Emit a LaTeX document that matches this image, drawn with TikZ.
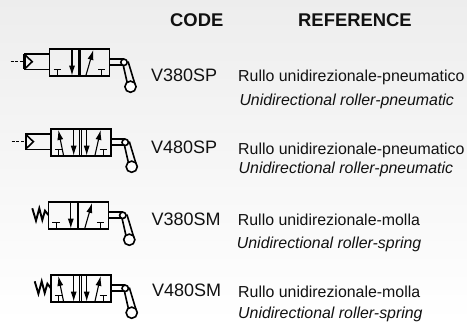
\documentclass[tikz,border=0pt]{standalone}
\usepackage{fontspec}
\setmainfont{Liberation Sans}
\usetikzlibrary{arrows.meta}
\definecolor{ink}{HTML}{111111}
\tikzset{
  head/.style={anchor=base west,inner sep=0pt,text=ink,font=\fontsize{18.4}{20}\selectfont\bfseries},
  codet/.style={anchor=base west,inner sep=0pt,text=ink,font=\fontsize{18}{20}\selectfont},
  desc/.style={anchor=base west,inner sep=0pt,text=ink,font=\fontsize{15.9}{18}\selectfont},
  tran/.style={anchor=base west,inner sep=0pt,text=ink,font=\fontsize{15.9}{18}\selectfont\itshape},
  sym/.style={draw=black,line width=1.6pt,line join=miter},
  flow/.style={draw=black,line width=1.1pt,-{Latex[length=10pt,width=6pt]}},
  thin/.style={draw=black,line width=1.1pt},
  tee/.pic={\draw[thin] (-3.7,0)--(3.7,0) (0,0)--(0,6);},
  body/.pic={
    \draw[sym] (0,0) rectangle (60,27);
    \draw[thin] (28.8,0)--(28.8,27) (30.5,0)--(30.5,27);
    \draw[sym] (60,10)--(74.5,10) (60,16.4)--(74.5,16.4);
    \draw[sym] (73.7,16.4)--(77.6,33.5) (78.6,12.8)--(85.7,36.3);
    \draw[sym,fill=white] (74.5,13.6) circle (3.2);
    \draw[sym,fill=white] (81,38) circle (5.6);
  },
  threeway/.pic={
    \path (0,0) pic {body} (7.8,21) pic {tee} (52.2,21) pic {tee};
    \draw[flow] (22.5,0)--(22.5,27);
    \draw[flow] (36.5,26.5)--(43.8,1.2);
  },
  fourway/.pic={
    \path (0,0) pic {body} (7.8,21) pic {tee} (52.6,21) pic {tee};
    \draw[flow] (23,0)--(23,27);
    \draw[flow] (36,0)--(36,27);
    \draw[flow] (12.8,26.5)--(7.6,1.2);
    \draw[flow] (44.3,26.5)--(50,1.2);
  },
  pilot/.pic={
    \draw[sym] (0,5.3)--(-25,5.3)--(-25,20.6)--(0,20.6);
    \draw[draw=black,line width=2.2pt] (-25,5.3)--(-25,20.6);
    \draw[sym] (-24,6.6)--(-17.3,13)--(-24,19.4);
    \draw[thin,dash pattern=on 3pt off 1.6pt] (-39,13)--(-25.5,13);
  },
  coil/.pic={
    \draw[sym,line width=1.9pt] (-16,6.6)--(-12.3,19)--(-9,6.6)--(-6,18.3)--(-3.3,9)--(0,13.3);
  },
}
\begin{document}
\begin{tikzpicture}[x=1pt,y=-1pt]
\useasboundingbox (0,0) rectangle (467,322);
\shade[top color=black!7,bottom color=white] (0,0) rectangle (467,322);
\node[head] (codehead) at (170,26.7) {CODE};
\node[head] (refhead) at (298,26.7) {REFERENCE};
\path (49.5,48.7) pic {threeway} pic {pilot};
\path (50.7,128.7) pic {fourway} pic {pilot};
\path (48.3,201.7) pic {threeway} pic {coil};
\path (50.7,274.7) pic {fourway} pic {coil};
\node[codet] (c1) at (151,81) {V380SP};
\node[desc] (d1) at (238,81) {Rullo unidirezionale-pneumatico};
\node[tran] (t1) at (239.3,105.7) {Unidirectional roller-pneumatic};
\node[codet] (c2) at (151,153) {V480SP};
\node[desc] (d2) at (238,154) {Rullo unidirezionale-pneumatico};
\node[tran] (t2) at (238.5,173) {Unidirectional roller-pneumatic};
\node[codet] (c3) at (151.5,225) {V380SM};
\node[desc] (d3) at (237.7,225) {Rullo unidirezionale-molla};
\node[tran] (t3) at (236.7,248.3) {Unidirectional roller-spring};
\node[codet] (c4) at (152,296.7) {V480SM};
\node[desc] (d4) at (238,297) {Rullo unidirezionale-molla};
\node[tran] (t4) at (238,318.5) {Unidirectional roller-spring};
\end{tikzpicture}
\end{document}
